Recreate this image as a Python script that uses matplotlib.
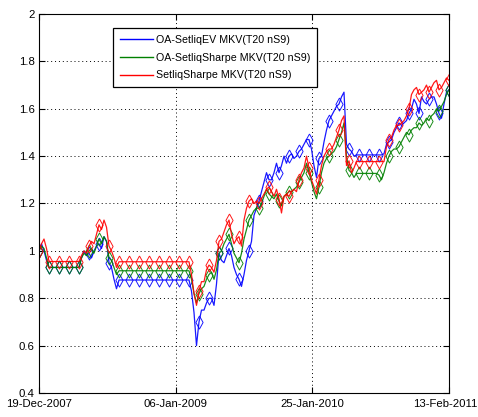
import matplotlib
matplotlib.use('Agg')
import matplotlib.pyplot as plt
import matplotlib.transforms as mtransforms
from matplotlib.lines import Line2D
import numpy as np
import pandas as pd

plt.rcParams['font.family'] = ['Liberation Sans Narrow', 'Liberation Sans', 'DejaVu Sans']

# weekly samples, 19-Dec-2007 .. 13-Feb-2011
dates = pd.date_range('2007-12-19', '2011-02-13', periods=165)

names = ['OA-SetliqEV MKV(T20 nS9)', 'OA-SetliqSharpe MKV(T20 nS9)', 'SetliqSharpe MKV(T20 nS9)']

blue_vals = [
    1.00, 1.03, 1.00, 0.96, 0.93, 0.93, 0.93, 0.93, 0.93, 0.93,
    0.93, 0.93, 0.93, 0.93, 0.93, 0.93, 0.93, 0.97, 1.00, 0.98,
    0.99, 0.97, 1.00, 1.02, 1.03, 1.01, 1.06, 1.04, 0.95, 0.93,
    0.88, 0.84, 0.877, 0.877, 0.877, 0.877, 0.877, 0.877, 0.877, 0.877,
    0.877, 0.877, 0.877, 0.877, 0.877, 0.877, 0.877, 0.877, 0.877, 0.877,
    0.877, 0.877, 0.877, 0.877, 0.877, 0.877, 0.877, 0.877, 0.877, 0.877,
    0.877, 0.83, 0.74, 0.60, 0.70, 0.75, 0.75, 0.78, 0.80, 0.80,
    0.77, 0.86, 0.99, 0.96, 0.95, 0.98, 1.01, 0.98, 0.93, 0.90,
    0.88, 0.85, 0.90, 0.96, 1.00, 1.04, 1.15, 1.18, 1.21, 1.25,
    1.29, 1.33, 1.30, 1.30, 1.33, 1.37, 1.33, 1.36, 1.40, 1.37,
    1.40, 1.41, 1.39, 1.40, 1.42, 1.43, 1.45, 1.47, 1.47, 1.43,
    1.36, 1.31, 1.39, 1.40, 1.46, 1.51, 1.55, 1.57, 1.59, 1.61,
    1.62, 1.65, 1.67, 1.45, 1.43, 1.42, 1.40, 1.405, 1.405, 1.405,
    1.405, 1.405, 1.405, 1.405, 1.405, 1.405, 1.405, 1.405, 1.41, 1.45,
    1.46, 1.47, 1.50, 1.52, 1.54, 1.53, 1.54, 1.55, 1.58, 1.60,
    1.64, 1.62, 1.58, 1.65, 1.63, 1.62, 1.64, 1.65, 1.65, 1.62,
    1.58, 1.56, 1.62, 1.67, 1.68,
]

green_vals = [
    1.00, 1.02, 1.01, 0.97, 0.93, 0.93, 0.93, 0.93, 0.93, 0.93,
    0.93, 0.93, 0.93, 0.93, 0.93, 0.93, 0.93, 0.97, 0.99, 0.98,
    1.00, 1.01, 0.99, 1.02, 1.05, 1.03, 1.06, 1.04, 0.97, 0.96,
    0.93, 0.90, 0.916, 0.916, 0.916, 0.916, 0.916, 0.916, 0.916, 0.916,
    0.916, 0.916, 0.916, 0.916, 0.916, 0.916, 0.916, 0.916, 0.916, 0.916,
    0.916, 0.916, 0.916, 0.916, 0.916, 0.916, 0.916, 0.916, 0.916, 0.916,
    0.916, 0.88, 0.82, 0.78, 0.82, 0.84, 0.85, 0.88, 0.90, 0.91,
    0.88, 0.92, 0.99, 1.00, 1.03, 1.05, 1.07, 1.03, 0.99, 0.97,
    0.95, 0.99, 1.05, 1.09, 1.13, 1.15, 1.17, 1.18, 1.18, 1.20,
    1.23, 1.26, 1.24, 1.23, 1.22, 1.24, 1.21, 1.19, 1.23, 1.24,
    1.25, 1.25, 1.26, 1.27, 1.29, 1.31, 1.33, 1.37, 1.33, 1.29,
    1.25, 1.22, 1.27, 1.33, 1.37, 1.39, 1.40, 1.41, 1.42, 1.44,
    1.47, 1.50, 1.54, 1.40, 1.34, 1.33, 1.31, 1.327, 1.327, 1.327,
    1.327, 1.327, 1.327, 1.327, 1.327, 1.327, 1.32, 1.30, 1.33, 1.37,
    1.40, 1.42, 1.43, 1.43, 1.44, 1.46, 1.48, 1.50, 1.49, 1.51,
    1.52, 1.52, 1.54, 1.53, 1.54, 1.56, 1.55, 1.57, 1.58, 1.60,
    1.59, 1.61, 1.63, 1.66, 1.68,
]

red_vals = [
    1.00, 1.03, 1.05, 1.01, 0.955, 0.955, 0.955, 0.955, 0.955, 0.955,
    0.955, 0.955, 0.955, 0.955, 0.955, 0.955, 0.955, 0.98, 1.00, 0.99,
    1.02, 1.04, 1.03, 1.07, 1.11, 1.09, 1.13, 1.10, 1.02, 1.00,
    0.97, 0.93, 0.954, 0.954, 0.954, 0.954, 0.954, 0.954, 0.954, 0.954,
    0.954, 0.954, 0.954, 0.954, 0.954, 0.954, 0.954, 0.954, 0.954, 0.954,
    0.954, 0.954, 0.954, 0.954, 0.954, 0.954, 0.954, 0.954, 0.954, 0.954,
    0.954, 0.90, 0.82, 0.77, 0.83, 0.87, 0.87, 0.92, 0.94, 0.93,
    0.91, 0.96, 1.04, 1.05, 1.08, 1.11, 1.13, 1.07, 1.03, 1.05,
    1.06, 1.02, 1.13, 1.18, 1.21, 1.22, 1.20, 1.21, 1.20, 1.22,
    1.24, 1.26, 1.27, 1.25, 1.23, 1.26, 1.22, 1.16, 1.23, 1.24,
    1.23, 1.25, 1.26, 1.25, 1.30, 1.33, 1.35, 1.40, 1.35, 1.30,
    1.27, 1.24, 1.30, 1.36, 1.40, 1.42, 1.43, 1.43, 1.45, 1.48,
    1.51, 1.55, 1.57, 1.36, 1.38, 1.33, 1.35, 1.377, 1.377, 1.377,
    1.377, 1.377, 1.377, 1.377, 1.377, 1.377, 1.377, 1.377, 1.377, 1.44,
    1.47, 1.48, 1.51, 1.53, 1.53, 1.54, 1.55, 1.57, 1.60, 1.66,
    1.68, 1.69, 1.66, 1.67, 1.68, 1.70, 1.67, 1.69, 1.71, 1.72,
    1.68, 1.69, 1.71, 1.73, 1.72,
]

x_ticks = ['2007-12-19', '2009-01-06', '2010-01-25', '2011-02-13']
x_labels = ['19-Dec-2007', '06-Jan-2009', '25-Jan-2010', '13-Feb-2011']
y_ticks = [0.4, 0.6, 0.8, 1.0, 1.2, 1.4, 1.6, 1.8, 2.0]
y_labels = ['0.4', '0.6', '0.8', '1', '1.2', '1.4', '1.6', '1.8', '2']

colors = ['#0000ff', '#008000', '#ff0000']

# tall, narrow diamond like the matlab one
diamond = [(0, 1), (0.55, 0), (0, -1), (-0.55, 0), (0, 1)]

fig = plt.figure(figsize=(4.78, 4.17), dpi=100)
ax = fig.add_axes([0.0816, 0.0576, 0.8577, 0.9088])

for vals, col in zip([blue_vals, green_vals, red_vals], colors):
    ax.plot(dates, vals, color=col, lw=0.9, marker=diamond, markevery=4,
            ms=9.4, mfc='none', mec=col, mew=0.7, alpha=0.9)

ax.set_xlim(pd.Timestamp(x_ticks[0]), pd.Timestamp(x_ticks[-1]))
ax.set_ylim(0.4, 2.0)
ax.set_xticks([pd.Timestamp(d) for d in x_ticks])
ax.set_xticklabels(x_labels)
ax.set_yticks(y_ticks)
ax.set_yticklabels(y_labels)

ax.grid(True, linestyle=(0, (1, 3)), color='black', lw=0.7)
ax.tick_params(direction='in', top=True, right=True, length=4, labelsize=8.2)
ax.tick_params(axis='x', pad=4)
ax.tick_params(axis='y', pad=3)
for s in ax.spines.values():
    s.set_linewidth(0.8)

# nudge the last date label so it stays inside the picture
last = ax.get_xticklabels()[-1]
last.set_transform(last.get_transform() + mtransforms.ScaledTranslation(-4 / 100, 0, fig.dpi_scale_trans))

handles = [Line2D([], [], color=c, lw=1) for c in colors]
leg = ax.legend(handles, names, loc='upper left', bbox_to_anchor=(113 / 478, 1 - 28 / 417),
                bbox_transform=fig.transFigure, borderaxespad=0, fontsize=7.7,
                fancybox=False, framealpha=1, edgecolor='black', handlelength=3.1,
                borderpad=0.65, labelspacing=0.72, handletextpad=0.25)
leg.get_frame().set_linewidth(0.9)

fig.savefig('out.png', dpi=100)
